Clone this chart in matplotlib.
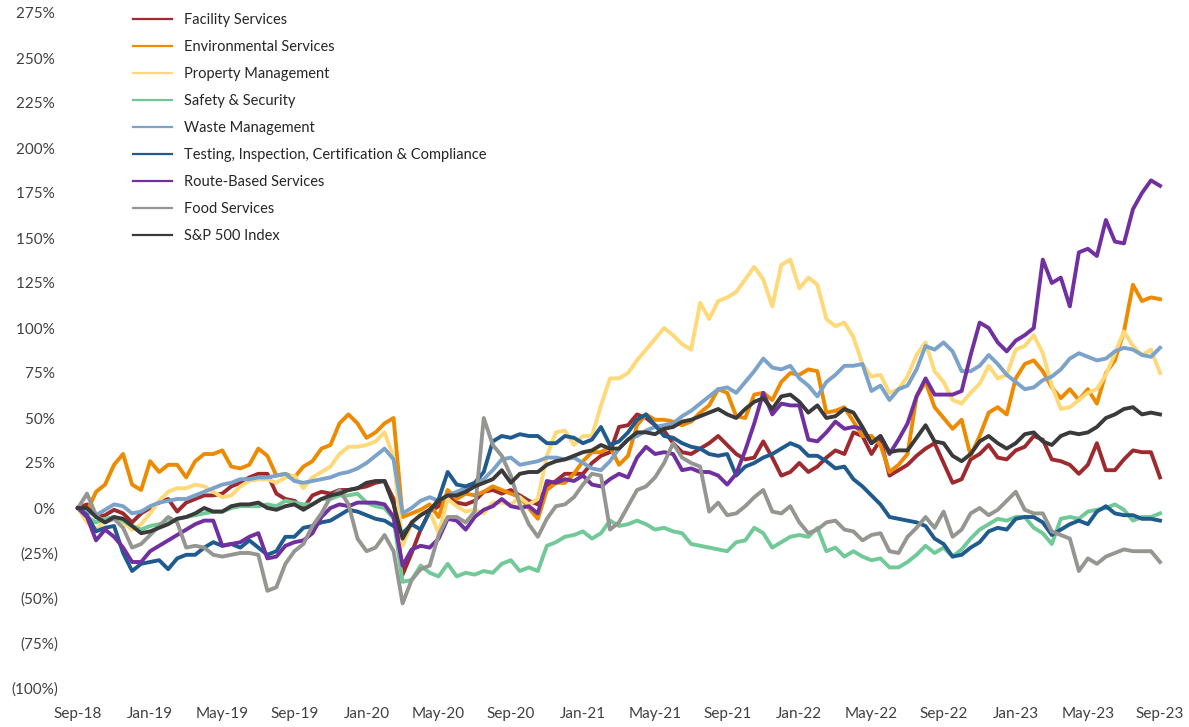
import numpy as np
import matplotlib
matplotlib.use("Agg")
import matplotlib.pyplot as plt
from matplotlib.ticker import FuncFormatter

plt.rcParams['font.family'] = ['Lato', 'DejaVu Sans']

# semi-monthly readings, Sep-18 .. Sep-23 (% change)
tick_labels = ["Sep-18", "Jan-19", "May-19", "Sep-19", "Jan-20", "May-20", "Sep-20", "Jan-21",
               "May-21", "Sep-21", "Jan-22", "May-22", "Sep-22", "Jan-23", "May-23", "Sep-23"]

names = ["Facility Services", "Environmental Services", "Property Management", "Safety & Security",
         "Waste Management", "Testing, Inspection, Certification & Compliance", "Route-Based Services",
         "Food Services", "S&P 500 Index"]

facility = [0, 2, -5, -4, -1, -3, -8, -3, 0, 3, 5, -2, 3, 5, 7, 7, 8, 12, 14, 17, 19, 19, 8, 5, 4, 0, 7, 9,
            8, 10, 10, 11, 12, 14, 15, 5, -37, -25, -12, -2, 1, 8, 3, 2, 4, 9, 10, 8, 10, 7, 4, 2, 12, 15, 19, 19, 19, 25,
            29, 31, 45, 46, 52, 50, 46, 43, 36, 31, 30, 33, 36, 40, 35, 30, 27, 28, 37, 28, 18, 20, 25, 20, 23, 28, 32, 30, 42, 40, 30, 38, 18,
            21, 24, 29, 33, 36, 25, 14, 16, 27, 30, 35, 28, 27, 32, 34, 40, 38, 27, 26, 24, 19, 24, 36, 21, 21, 27, 32, 31, 31, 17]

environmental = [0, -2, 9, 13, 24, 30, 13, 10, 26, 20, 24, 24, 17, 26, 30, 30, 32, 23, 22, 24, 33, 29, 18, 19, 17, 23, 26, 33,
                 35, 47, 52, 47, 39, 42, 47, 50, -5, -3, -1, 2, -5, 10, 5, 8, 7, 9, 12, 10, 8, 6, 0, -6, 10, 14, 14, 19, 26, 31,
                 31, 34, 24, 29, 46, 52, 49, 49, 48, 46, 48, 53, 57, 66, 64, 51, 50, 63, 64, 60, 70, 75, 74, 77, 76, 53, 54, 56, 48, 40, 40,
                 35, 20, 24, 30, 62, 70, 56, 50, 44, 49, 29, 40, 53, 56, 52, 72, 80, 82, 76, 67, 61, 66, 60, 66, 58, 75, 82, 98, 124, 115, 117, 116]

property_mgmt = [0, -8, -12, -7, -6, -8, -12, -9, -3, 4, 9, 11, 11, 13, 12, 9, 6, 7, 12, 15, 16, 16, 14, 17, 18, 11, 17, 20,
                 23, 30, 34, 34, 35, 37, 42, 28, -21, -9, -3, -2, -14, 5, 1, -2, -1, -3, 3, 3, 2, 6, 2, 5, 29, 42, 43, 35, 40, 40,
                 57, 72, 72, 75, 82, 88, 94, 100, 96, 91, 88, 114, 105, 115, 117, 120, 127, 134, 127, 112, 135, 138, 122, 128, 124, 105, 101, 103, 95, 80, 73,
                 74, 64, 66, 73, 85, 92, 76, 70, 60, 58, 64, 69, 79, 72, 74, 88, 90, 96, 86, 68, 55, 56, 60, 64, 66, 74, 86, 98, 90, 85, 88, 75]

safety = [0, -5, -8, -6, -5, -7, -10, -12, -10, -9, -8, -6, -5, -4, -3, -2, -2, 0, 1, 1, 1, 2, 1, 4, 3, 2, 2, 5,
          5, 7, 7, 8, 3, 1, 0, -6, -41, -40, -32, -36, -38, -31, -38, -36, -37, -35, -36, -31, -29, -35, -33, -35, -21, -19, -16, -15, -13, -17,
          -14, -7, -10, -9, -7, -9, -12, -11, -13, -14, -20, -21, -22, -23, -24, -19, -18, -11, -14, -22, -19, -16, -15, -16, -11, -24, -22, -27, -24, -27, -29, -28, -33,
          -33, -30, -26, -21, -25, -22, -27, -23, -17, -12, -9, -6, -7, -5, -5, -11, -14, -20, -6, -5, -6, -2, -1, 0, 2, -1, -7, -5, -5, -3]

waste = [0, -2, -4, -1, 2, 1, -3, -2, 1, 3, 4, 5, 5, 7, 9, 11, 13, 14, 16, 16, 17, 17, 18, 19, 15, 14, 15, 16,
         17, 19, 20, 22, 25, 29, 33, 27, -3, 0, 4, 6, 4, 7, 9, 11, 14, 16, 21, 27, 28, 24, 25, 26, 28, 28, 27, 28, 25, 22,
         21, 26, 33, 38, 40, 43, 45, 46, 47, 51, 54, 58, 62, 66, 67, 64, 70, 76, 83, 78, 77, 79, 72, 68, 62, 70, 74, 79, 79, 80, 65, 68, 60,
         66, 68, 77, 90, 88, 92, 87, 76, 76, 79, 85, 80, 74, 70, 66, 67, 71, 73, 77, 83, 86, 84, 82, 83, 87, 89, 88, 85, 84, 89]

testing = [0, -4, -13, -11, -10, -25, -35, -31, -30, -29, -34, -28, -26, -26, -22, -19, -21, -20, -22, -18, -22, -26, -24, -16, -16, -11, -10, -8,
           -7, -4, -1, -2, -4, -6, -7, -10, -14, -9, -12, -2, 5, 20, 13, 12, 14, 20, 37, 40, 39, 41, 40, 40, 36, 36, 40, 39, 36, 38,
           45, 35, 37, 42, 49, 52, 46, 40, 39, 36, 34, 33, 30, 29, 30, 18, 23, 25, 28, 30, 33, 36, 34, 29, 29, 26, 22, 23, 16, 12, 7, 2, -5,
           -6, -7, -8, -10, -17, -20, -27, -26, -22, -19, -13, -11, -12, -6, -5, -5, -8, -15, -12, -9, -7, -9, -2, 1, -3, -4, -4, -6, -6, -7]

route = [0, -5, -18, -12, -16, -22, -30, -30, -24, -21, -18, -15, -12, -9, -7, -7, -21, -20, -19, -16, -14, -28, -27, -21, -19, -18, -14, -5,
         0, 2, 1, 3, 3, 3, 2, -5, -32, -23, -21, -22, -17, -6, -7, -12, -5, -1, 1, 5, 1, 0, 1, -3, 15, 14, 16, 15, 18, 13,
         12, 16, 19, 17, 28, 34, 30, 31, 30, 21, 22, 20, 20, 18, 13, 19, 32, 47, 64, 52, 58, 57, 57, 38, 37, 42, 48, 44, 45, 44, 36, 40, 30,
         38, 47, 62, 72, 63, 63, 63, 65, 85, 103, 100, 92, 87, 93, 96, 100, 138, 125, 128, 112, 142, 144, 140, 160, 148, 147, 166, 175, 182, 179]

food = [0, 8, -4, -8, -6, -11, -22, -20, -15, -10, -5, -8, -22, -21, -22, -26, -27, -26, -25, -25, -26, -46, -44, -31, -24, -20, -10, -3,
        6, 10, 2, -17, -24, -22, -15, -24, -53, -40, -34, -32, -15, -5, -5, -8, -2, 50, 35, 29, 18, 2, -9, -16, -6, 1, 2, 6, 13, 19,
        18, -12, -8, 1, 10, 12, 17, 25, 36, 28, 25, 23, -2, 3, -4, -3, 1, 6, 10, -2, -3, 1, -8, -14, -12, -8, -7, -12, -13, -18, -15, -14, -24,
        -25, -16, -11, -5, -11, -2, -16, -12, -3, 0, -4, -1, 4, 9, -1, -3, -3, -13, -15, -17, -35, -28, -31, -27, -25, -23, -24, -24, -24, -30]

sp500 = [0, 0, -5, -8, -5, -6, -10, -14, -13, -11, -9, -6, -5, -3, 0, -2, -2, 1, 2, 2, 3, 0, -1, 1, 2, -1, 2, 5,
         7, 8, 10, 11, 14, 15, 15, 2, -17, -8, -4, -1, 4, 7, 7, 9, 12, 14, 16, 21, 14, 19, 20, 20, 24, 26, 27, 29, 31, 32,
         35, 33, 33, 38, 42, 42, 41, 44, 45, 48, 49, 51, 53, 55, 52, 50, 55, 59, 61, 55, 62, 63, 59, 53, 57, 50, 51, 55, 53, 45, 36, 40, 31,
         32, 32, 39, 46, 37, 36, 29, 26, 30, 37, 40, 36, 33, 36, 41, 42, 37, 35, 40, 42, 41, 42, 45, 50, 52, 55, 56, 52, 53, 52]

series = [facility, environmental, property_mgmt, safety, waste, testing, route, food, sp500]
colors = ['#9E2A2F', '#EE8A00', '#FFD978', '#70C997', '#7BA3C9', '#1F5B8E', '#7030A0', '#959591', '#3A3A3A']

months = np.arange(len(sp500)) / 2

fig = plt.figure(figsize=(11.89, 7.27), dpi=100)
ax = fig.add_axes([78 / 1189, 39 / 727, 1082 / 1189, 675 / 727])

for name, vals, c in zip(names, series, colors):
    ax.plot(months, vals, color=c, lw=2.8, label=name, clip_on=False, solid_joinstyle='round')

ax.set_xlim(0, 60)
ax.set_ylim(-100, 275)
ax.set_xticks(np.arange(0, 61, 4))
ax.set_xticklabels(tick_labels)
ax.set_yticks(np.arange(-100, 276, 25))
ax.yaxis.set_major_formatter(FuncFormatter(lambda v, p: f"{v:.0f}% " if v >= 0 else f"({-v:.0f}%)"))
for s in ax.spines.values():
    s.set_visible(False)
ax.tick_params(length=0, labelsize=11, labelcolor='#404040', pad=14)

leg = ax.legend(loc='upper left', bbox_to_anchor=(133 / 1189, 1 - 13 / 727), bbox_transform=fig.transFigure,
                frameon=False, fontsize=10.5, handlelength=2.67, handletextpad=0.82, labelspacing=0.89,
                borderpad=0, borderaxespad=0)
for t in leg.get_texts():
    t.set_color('#262626')
for l in leg.get_lines():
    l.set_linewidth(1.6)

fig.savefig("out.png", dpi=100)
